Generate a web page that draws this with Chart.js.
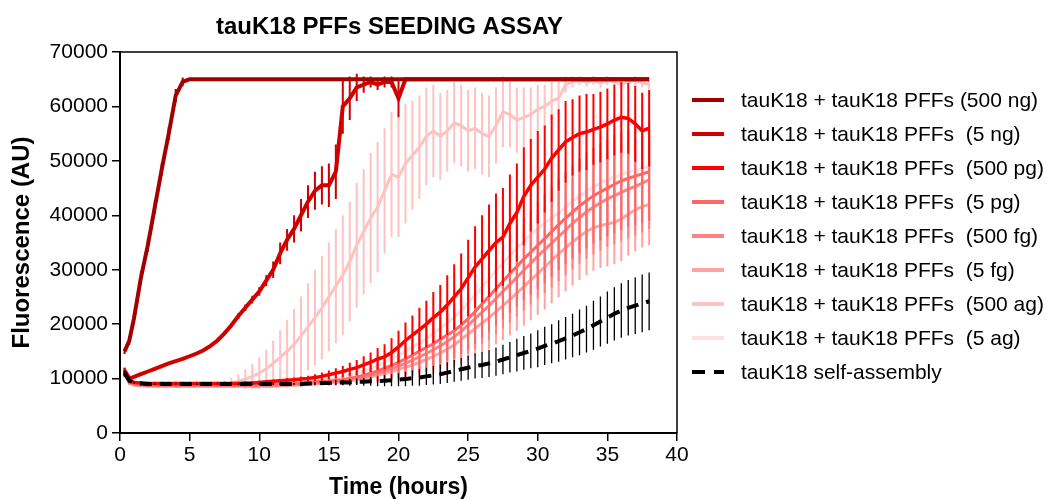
<!DOCTYPE html>
<html>
<head>
<meta charset="utf-8">
<title>tauK18 PFFs SEEDING ASSAY</title>
<script src="https://cdn.jsdelivr.net/npm/chart.js@4.4.1/dist/chart.umd.min.js"></script>
<style>
  html, body { margin: 0; padding: 0; background: #fff; }
</style>
</head>
<body>
<canvas id="chart" width="1046" height="499"></canvas>
<script>
// --- data (time in hours, fluorescence in AU) ---
const hours = [0.33, 0.67,
  1, 1.5, 2, 2.5, 3, 3.5, 4, 4.5, 5, 5.5,
  6, 6.5, 7, 7.5, 8, 8.5, 9, 9.5, 10, 10.5,
  11, 11.5, 12, 12.5, 13, 13.5, 14, 14.5, 15, 15.5,
  16, 16.5, 17, 17.5, 18, 18.5, 19, 19.5, 20, 20.5,
  21, 21.5, 22, 22.5, 23, 23.5, 24, 24.5, 25, 25.5,
  26, 26.5, 27, 27.5, 28, 28.5, 29, 29.5, 30, 30.5,
  31, 31.5, 32, 32.5, 33, 33.5, 34, 34.5, 35, 35.5,
  36, 36.5, 37, 37.5, 38];

const ng500 = [15000, 17000,
  21000, 28500, 34500, 41500, 48500, 55000, 62000, 64500, 65000, 65000,
  65000, 65000, 65000, 65000, 65000, 65000, 65000, 65000, 65000, 65000,
  65000, 65000, 65000, 65000, 65000, 65000, 65000, 65000, 65000, 65000,
  65000, 65000, 65000, 65000, 65000, 65000, 65000, 65000, 65000, 65000,
  65000, 65000, 65000, 65000, 65000, 65000, 65000, 65000, 65000, 65000,
  65000, 65000, 65000, 65000, 65000, 65000, 65000, 65000, 65000, 65000,
  65000, 65000, 65000, 65000, 65000, 65000, 65000, 65000, 65000, 65000,
  65000, 65000, 65000, 65000, 65000];
const ng500Err = [500, 800,
  1000, 1200, 1200, 1200, 1200, 1200, 1200, 800, 0, 0,
  0, 0, 0, 0, 0, 0, 0, 0, 0, 0,
  0, 0, 0, 0, 0, 0, 0, 0, 0, 0,
  0, 0, 0, 0, 0, 0, 0, 0, 0, 0,
  0, 0, 0, 0, 0, 0, 0, 0, 0, 0,
  0, 0, 0, 0, 0, 0, 0, 0, 0, 0,
  0, 0, 0, 0, 0, 0, 0, 0, 0, 0,
  0, 0, 0, 0, 0];

const ng5 = [11500, 10000,
  10300, 10800, 11300, 11800, 12300, 12800, 13200, 13600, 14100, 14600,
  15200, 16000, 17000, 18300, 19800, 21500, 23000, 24500, 26000, 28000,
  30000, 33000, 35500, 37500, 40000, 42500, 44500, 45500, 45500, 48000,
  60000, 61500, 63500, 64000, 64500, 64000, 64500, 64500, 61500, 65000,
  65000, 65000, 65000, 65000, 65000, 65000, 65000, 65000, 65000, 65000,
  65000, 65000, 65000, 65000, 65000, 65000, 65000, 65000, 65000, 65000,
  65000, 65000, 65000, 65000, 65000, 65000, 65000, 65000, 65000, 65000,
  65000, 65000, 65000, 65000, 65000];
const ng5Err = [500, 300,
  200, 200, 200, 200, 200, 200, 200, 200, 200, 200,
  200, 200, 300, 300, 400, 500, 600, 700, 800, 1000,
  1500, 2000, 2000, 2500, 3000, 3000, 3500, 3500, 4000, 5000,
  5000, 4000, 2500, 1500, 1000, 1000, 1000, 1000, 3500, 0,
  0, 0, 0, 0, 0, 0, 0, 0, 0, 0,
  0, 0, 0, 0, 0, 0, 0, 0, 0, 0,
  0, 0, 0, 0, 0, 0, 0, 0, 0, 0,
  0, 0, 0, 0, 0];

const pg500 = [11200, 9800,
  9300, 9200, 9100, 9100, 9100, 9100, 9100, 9100, 9100, 9100,
  9100, 9100, 9100, 9100, 9100, 9100, 9200, 9200, 9300, 9400,
  9500, 9600, 9700, 9800, 9900, 10000, 10200, 10400, 10700, 11000,
  11300, 11700, 12000, 12500, 13000, 13600, 14000, 14800, 15800, 17000,
  18000, 19000, 20000, 21200, 22200, 23500, 25000, 26500, 28500, 30500,
  32000, 33500, 35000, 36000, 38500, 40500, 43500, 45500, 47000, 48500,
  50500, 52000, 53500, 54300, 55000, 55300, 55800, 56200, 56800, 57500,
  58000, 57800, 56800, 55500, 56000];
const pg500Err = [800, 500,
  300, 300, 300, 300, 300, 300, 300, 300, 300, 300,
  300, 300, 300, 300, 300, 300, 300, 300, 300, 300,
  300, 300, 400, 400, 500, 500, 600, 700, 800, 900,
  1000, 1200, 1400, 1600, 1800, 2000, 2300, 2600, 3000, 3300,
  3600, 4000, 4300, 4700, 5000, 5500, 6000, 6500, 7000, 7500,
  8000, 8500, 9000, 9000, 9000, 9000, 9000, 8500, 8500, 8000,
  8000, 7500, 7500, 7000, 7000, 7000, 6500, 6500, 6500, 6500,
  6500, 6500, 7000, 7000, 7000];

const pg5 = [11000, 9400,
  9000, 8900, 8800, 8800, 8800, 8800, 8800, 8800, 8800, 8800,
  8800, 8800, 8800, 8800, 8800, 8800, 8800, 8800, 8900, 8900,
  8900, 9000, 9000, 9100, 9200, 9300, 9400, 9500, 9500, 9700,
  9800, 10000, 10300, 10600, 11000, 11400, 11900, 12400, 13000, 13600,
  14300, 15000, 15700, 16400, 17200, 18000, 18800, 19800, 21000, 22300,
  23700, 25100, 26500, 27900, 29300, 30600, 32000, 33200, 34500, 35700,
  37000, 38300, 39500, 40600, 41700, 42700, 43600, 44300, 45000, 45700,
  46300, 46800, 47200, 47600, 48000];
const pg5Err = [600, 400,
  200, 200, 200, 200, 200, 200, 200, 200, 200, 200,
  200, 200, 200, 200, 200, 200, 200, 200, 200, 200,
  200, 200, 300, 300, 400, 400, 500, 600, 700, 800,
  900, 1000, 1200, 1400, 1600, 1800, 2000, 2300, 2600, 2900,
  3200, 3500, 3800, 4100, 4400, 4700, 5000, 5300, 5600, 5900,
  6200, 6500, 6800, 7000, 7200, 7400, 7600, 7800, 8000, 8200,
  8300, 8400, 8500, 8600, 8700, 8800, 8800, 8900, 8900, 9000,
  9000, 9000, 9000, 9000, 9000];

const fg500 = [10900, 9300,
  8900, 8800, 8700, 8700, 8700, 8700, 8700, 8700, 8700, 8700,
  8700, 8700, 8700, 8700, 8700, 8700, 8700, 8700, 8700, 8700,
  8700, 8800, 8800, 8900, 9000, 9100, 9200, 9300, 9400, 9500,
  9600, 9800, 10000, 10300, 10600, 11000, 11400, 11800, 12300, 12800,
  13400, 14000, 14600, 15300, 16000, 16800, 17700, 18700, 19800, 21000,
  22200, 23400, 24700, 26000, 27300, 28600, 29900, 31200, 32500, 33700,
  34900, 36100, 37300, 38500, 39600, 40600, 41500, 42300, 43000, 43600,
  44200, 44800, 45300, 45900, 46500];
const fg500Err = [600, 400,
  200, 200, 200, 200, 200, 200, 200, 200, 200, 200,
  200, 200, 200, 200, 200, 200, 200, 200, 200, 200,
  200, 200, 300, 300, 300, 400, 400, 500, 600, 700,
  800, 900, 1000, 1200, 1400, 1600, 1800, 2000, 2300, 2600,
  2900, 3200, 3500, 3800, 4100, 4400, 4700, 5000, 5300, 5600,
  5900, 6200, 6500, 6800, 7000, 7200, 7400, 7600, 7800, 8000,
  8100, 8200, 8300, 8400, 8500, 8600, 8700, 8800, 8800, 8900,
  8900, 9000, 9000, 9000, 9000];

const fg5 = [10800, 9200,
  8800, 8700, 8600, 8600, 8600, 8600, 8600, 8600, 8600, 8600,
  8600, 8600, 8600, 8600, 8600, 8600, 8600, 8600, 8600, 8600,
  8600, 8700, 8700, 8800, 8800, 8900, 9000, 9100, 9200, 9300,
  9400, 9600, 9800, 10000, 10300, 10600, 10900, 11300, 11700, 12100,
  12500, 13000, 13500, 14100, 14700, 15400, 16200, 17200, 18200, 19200,
  20200, 21200, 22300, 23400, 24500, 25700, 26900, 28100, 29300, 30500,
  31700, 32900, 34000, 35100, 36100, 37000, 37700, 38100, 38400, 38700,
  39300, 40200, 41000, 41600, 42000];
const fg5Err = [600, 400,
  200, 200, 200, 200, 200, 200, 200, 200, 200, 200,
  200, 200, 200, 200, 200, 200, 200, 200, 200, 200,
  200, 200, 200, 300, 300, 300, 400, 400, 500, 600,
  700, 800, 900, 1000, 1200, 1400, 1600, 1800, 2000, 2200,
  2400, 2700, 3000, 3300, 3600, 3900, 4200, 4500, 4800, 5100,
  5400, 5700, 6000, 6300, 6600, 6900, 7200, 7400, 7600, 7800,
  7900, 8000, 8000, 8000, 8000, 8000, 7900, 7800, 7800, 7700,
  7700, 7600, 7600, 7500, 7500];

const ag500 = [11000, 9400,
  9000, 8900, 8800, 8800, 8800, 8800, 8800, 8800, 8800, 8800,
  8800, 8800, 8900, 9000, 9200, 9500, 9900, 10400, 11000, 11800,
  12800, 13900, 15000, 16300, 17800, 19500, 21200, 23000, 25000, 27000,
  29000, 31500, 34500, 37000, 39500, 41500, 44500, 47500, 47000, 49500,
  51000, 52500, 54500, 55500, 54500, 55500, 57000, 56500, 55500, 56000,
  55000, 54500, 56500, 59000, 58500, 57500, 58000, 58500, 59500, 60000,
  61000, 61500, 64000, 64500, 64800, 64500, 64800, 64300, 64800, 64500,
  64000, 64500, 64800, 64300, 64000];
const ag500Err = [500, 300,
  300, 300, 300, 300, 300, 300, 300, 300, 300, 300,
  300, 300, 400, 600, 900, 1300, 1800, 2300, 2900, 3500,
  4200, 5000, 5800, 6500, 7300, 8000, 8800, 9500, 10000, 10500,
  11000, 11000, 11500, 11500, 12000, 12000, 11500, 11500, 11000, 11000,
  10000, 9500, 9000, 8500, 8000, 7500, 7500, 7500, 7500, 7500,
  7500, 7500, 7000, 6500, 6000, 6000, 5500, 5000, 4500, 4000,
  3500, 3000, 1500, 1000, 800, 800, 800, 800, 800, 800,
  800, 800, 800, 800, 800];

const ag5 = [11100, 9500,
  9100, 9000, 8900, 8900, 8900, 8900, 8900, 8900, 8900, 8900,
  8900, 8900, 8900, 8900, 8900, 8900, 8900, 8900, 9000, 9000,
  9000, 9100, 9100, 9200, 9300, 9400, 9500, 9700, 9900, 10100,
  10300, 10600, 11000, 11400, 11900, 12400, 13000, 13600, 14300, 15000,
  15800, 16600, 17400, 18300, 19200, 20200, 21300, 22600, 23900, 25300,
  26800, 28300, 29800, 31200, 32600, 34000, 35200, 36400, 37500, 38600,
  39500, 40500, 41500, 42500, 43500, 44400, 45200, 45900, 46500, 47000,
  47500, 47900, 48300, 48600, 48900];
const ag5Err = [600, 400,
  200, 200, 200, 200, 200, 200, 200, 200, 200, 200,
  200, 200, 200, 200, 200, 200, 200, 200, 200, 200,
  200, 200, 300, 300, 400, 500, 600, 700, 800, 900,
  1000, 1200, 1400, 1600, 1800, 2000, 2300, 2600, 2900, 3200,
  3500, 3800, 4100, 4400, 4700, 5000, 5300, 5600, 5900, 6200,
  6500, 6800, 7100, 7400, 7700, 8000, 8300, 8600, 8900, 9200,
  9500, 9800, 10000, 10200, 10400, 10600, 10800, 11000, 11200, 11400,
  11600, 11800, 12000, 12000, 12000];

const selfAssembly = [11000, 9600,
  9200, 9100, 9000, 9000, 9000, 9000, 9000, 9000, 9000, 9000,
  9000, 9000, 9000, 9000, 9000, 9000, 9000, 9000, 9000, 9000,
  9000, 9000, 9000, 9000, 9000, 9100, 9100, 9200, 9200, 9300,
  9300, 9300, 9400, 9400, 9500, 9500, 9600, 9700, 9800, 9900,
  10100, 10200, 10400, 10600, 10800, 11100, 11400, 11700, 12000, 12300,
  12500, 12800, 13100, 13500, 13900, 14300, 14700, 15100, 15500, 16000,
  16400, 16900, 17400, 17900, 18500, 19100, 19800, 20500, 21200, 21900,
  22500, 23000, 23400, 23800, 24200];
const selfAssemblyErr = [500, 300,
  200, 200, 200, 200, 200, 200, 200, 200, 200, 200,
  200, 200, 200, 200, 200, 200, 200, 200, 200, 200,
  200, 200, 200, 200, 300, 300, 300, 400, 400, 500,
  500, 600, 600, 700, 800, 900, 1000, 1100, 1200, 1300,
  1400, 1500, 1600, 1700, 1800, 1900, 2000, 2100, 2200, 2300,
  2400, 2500, 2600, 2700, 2800, 3000, 3100, 3200, 3400, 3500,
  3600, 3800, 3900, 4000, 4200, 4300, 4500, 4600, 4800, 4900,
  5000, 5100, 5200, 5300, 5300];

const labels = [
  'tauK18 + tauK18 PFFs (500 ng)',
  'tauK18 + tauK18 PFFs  (5 ng)',
  'tauK18 + tauK18 PFFs  (500 pg)',
  'tauK18 + tauK18 PFFs  (5 pg)',
  'tauK18 + tauK18 PFFs  (500 fg)',
  'tauK18 + tauK18 PFFs  (5 fg)',
  'tauK18 + tauK18 PFFs  (500 ag)',
  'tauK18 + tauK18 PFFs  (5 ag)',
  'tauK18 self-assembly'
];
const yTicks = [0, 10000, 20000, 30000, 40000, 50000, 60000, 70000];
const xTicks = [0, 5, 10, 15, 20, 25, 30, 35, 40];
// -------------------------------------------------------------------

const FONT = '"Liberation Sans", Arial, sans-serif';
Chart.defaults.font.family = FONT;
Chart.defaults.color = '#000';

function series(label, values, errors, color, width, dash) {
  return {
    label: label,
    data: hours.map((h, i) => ({ x: h, y: values[i] })),
    errors: errors,
    borderColor: color,
    backgroundColor: color,
    borderWidth: width,
    borderDash: dash || [],
    errorWidth: 2,
    pointRadius: 0,
    tension: 0,
    fill: false
  };
}

const datasets = [
  series(labels[0], ng500, ng500Err, '#a30000', 4),
  series(labels[1], ng5, ng5Err, '#d00000', 4),
  series(labels[2], pg500, pg500Err, '#ff0000', 3.5),
  series(labels[3], pg5, pg5Err, '#ff6666', 3),
  series(labels[4], fg500, fg500Err, '#ff8282', 3),
  series(labels[5], fg5, fg5Err, '#ffa2a2', 3),
  series(labels[6], ag500, ag500Err, '#ffc2c2', 3),
  series(labels[7], ag5, ag5Err, '#ffe0e0', 3),
  series(labels[8], selfAssembly, selfAssemblyErr, '#000000', 4, [12, 8])
];
datasets[8].errorWidth = 1.3;
datasets[8].order = -1; // dashed black sits above the pink traces

// vertical error bars, drawn right after each trace
const errorBars = {
  id: 'errorBars',
  afterDatasetDraw(chart, args) {
    const ds = chart.data.datasets[args.index];
    if (!ds.errors) return;
    const { ctx, chartArea: a } = chart;
    const xs = chart.scales.x, ys = chart.scales.y;
    ctx.save();
    ctx.beginPath();
    ctx.rect(a.left, a.top, a.right - a.left, a.bottom - a.top);
    ctx.clip();
    ctx.strokeStyle = ds.borderColor;
    ctx.lineWidth = ds.errorWidth;
    ctx.beginPath();
    ds.data.forEach((p, i) => {
      const e = ds.errors[i];
      if (!e) return;
      const px = xs.getPixelForValue(p.x);
      ctx.moveTo(px, ys.getPixelForValue(p.y - e));
      ctx.lineTo(px, ys.getPixelForValue(p.y + e));
    });
    ctx.stroke();
    ctx.restore();
  }
};

// frame on top/right + legend block on the right side
const frameAndLegend = {
  id: 'frameAndLegend',
  afterLayout(chart) {
    // the title in the figure sits a little left of the plot centre
    chart.titleBlock.left -= 18;
  },
  afterDraw(chart) {
    const { ctx, chartArea: a } = chart;
    ctx.save();
    ctx.strokeStyle = '#000';
    ctx.lineWidth = 1.5;
    ctx.beginPath();
    ctx.moveTo(a.left, a.top);
    ctx.lineTo(a.right, a.top);
    ctx.lineTo(a.right, a.bottom);
    ctx.stroke();

    ctx.font = '21px ' + FONT;
    ctx.textBaseline = 'middle';
    ctx.textAlign = 'left';
    chart.data.datasets.forEach((ds, i) => {
      const y = 100 + i * 34;
      ctx.strokeStyle = ds.borderColor;
      ctx.lineWidth = 4;
      ctx.setLineDash(ds.borderDash.length ? [13, 9] : []);
      ctx.beginPath();
      ctx.moveTo(692, y);
      ctx.lineTo(724, y);
      ctx.stroke();
      ctx.setLineDash([]);
      ctx.fillStyle = '#000';
      ctx.fillText(ds.label, 741, y + 1);
    });
    ctx.restore();
  }
};

new Chart(document.getElementById('chart'), {
  type: 'line',
  data: { datasets: datasets },
  options: {
    responsive: false,
    animation: false,
    devicePixelRatio: 1,
    layout: { padding: { left: 0, right: 369, top: 0, bottom: 0 } },
    plugins: {
      legend: { display: false },
      tooltip: { enabled: false },
      title: {
        display: true,
        fullSize: false,
        text: 'tauK18 PFFs SEEDING ASSAY',
        color: '#000',
        font: { size: 24, weight: 'bold' },
        padding: { top: 12.6, bottom: 10.6 }
      }
    },
    scales: {
      x: {
        type: 'linear',
        min: 0,
        max: 40,
        afterBuildTicks: s => { s.ticks = xTicks.map(v => ({ value: v })); },
        ticks: { font: { size: 21 }, padding: 2, maxRotation: 0, callback: v => String(v) },
        grid: { drawOnChartArea: false, tickLength: 8, color: '#000', lineWidth: 1.5 },
        border: { color: '#000', width: 2 },
        title: {
          display: true,
          text: 'Time (hours)',
          font: { size: 23, weight: 'bold', lineHeight: 1 },
          padding: { top: 0, bottom: 0 }
        },
        afterFit: s => { s.height = 66; }
      },
      y: {
        min: 0,
        max: 70000,
        afterBuildTicks: s => { s.ticks = yTicks.map(v => ({ value: v })); },
        ticks: { font: { size: 21 }, padding: 4, callback: v => String(v) },
        grid: { drawOnChartArea: false, tickLength: 8, color: '#000', lineWidth: 1.5 },
        border: { color: '#000', width: 2 },
        title: {
          display: true,
          text: 'Fluorescence (AU)',
          font: { size: 24, weight: 'bold', lineHeight: 1 },
          padding: { top: 10.5, bottom: 0 }
        },
        afterFit: s => { s.width = 120; }
      }
    }
  },
  plugins: [errorBars, frameAndLegend]
});
</script>
</body>
</html>
